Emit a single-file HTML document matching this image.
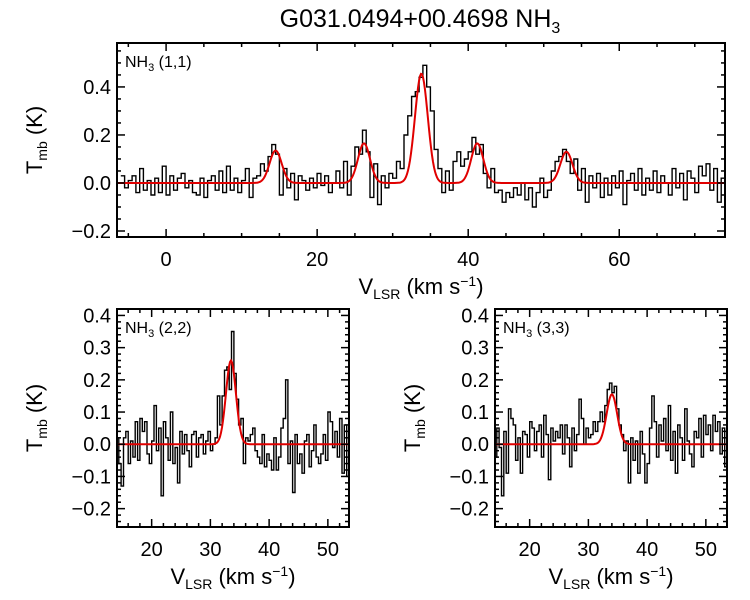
<!DOCTYPE html>
<html><head><meta charset="utf-8"><style>
body{margin:0;background:#fff}
svg{display:block;font-family:"Liberation Sans",sans-serif}
</style></head><body>
<svg id="c" width="750" height="600" viewBox="0 0 750 600">
<text x="420" y="27" font-size="25" text-anchor="middle">G031.0494+00.4698 NH<tspan font-size="16" dy="6">3</tspan></text>
</svg>
<script>
// Top panel NH3(1,1): channels start -6, width 0.5
const top11Start = -6, top11Step = 0.5;
const top11Values = [0.03,-0.02,0.01,0.03,-0.04,0.06,-0.03,0.01,-0.05,0.02,
-0.04,0.07,-0.05,0.03,-0.03,0.02,0.04,-0.02,0.01,-0.04,
-0.05,0.02,-0.06,0.01,0.03,-0.03,0.05,-0.04,0.07,-0.03,
0.02,-0.04,0.01,0.06,-0.06,0.02,0.03,0.08,0.05,0.11,
0.16,0.12,-0.05,0.06,-0.02,0.04,-0.07,0.03,0.01,-0.03,
0.02,-0.02,0.04,-0.01,0.03,-0.04,0.00,0.05,-0.02,0.09,
-0.05,0.07,0.15,0.12,0.22,0.13,-0.06,0.08,-0.09,0.03,
-0.02,0.04,0.02,0.09,0.06,0.20,0.28,0.36,0.38,0.44,
0.49,0.40,0.30,0.14,0.06,-0.04,0.05,-0.03,0.09,0.13,
0.07,0.10,0.13,0.19,0.12,0.16,0.04,-0.02,0.06,-0.04,
-0.03,-0.08,-0.04,-0.06,-0.02,-0.05,0.00,-0.07,-0.02,-0.10,
-0.04,0.02,-0.06,-0.03,0.05,0.09,0.11,0.14,0.09,0.04,
0.10,-0.03,0.06,-0.08,0.03,-0.02,0.04,-0.06,0.02,-0.05,
0.03,-0.02,0.05,-0.09,0.01,0.04,-0.03,0.06,-0.05,0.02,
-0.03,0.05,-0.04,0.03,0.00,-0.05,0.06,-0.02,0.04,-0.07,
0.05,0.02,-0.04,0.07,0.03,0.08,-0.03,0.06,-0.08,0.02];
const fit11Centers = [14.5,26.2,33.8,41.2,53.0];
const fit11Amps = [0.135,0.165,0.455,0.165,0.13];
const fit11Sigmas = [0.8,0.8,0.85,0.8,0.8];

const bStart = 14, bStep = 0.4;
const nh22Values = [0.02,-0.06,-0.13,0.02,0.04,-0.06,0.01,-0.04,0.07,-0.05,
0.08,0.04,0.07,-0.03,-0.06,0.01,0.12,-0.02,0.05,-0.16,
0.07,0.02,-0.05,0.10,-0.06,-0.01,-0.12,0.04,-0.03,0.03,
-0.02,-0.07,0.03,0.04,-0.04,0.02,0.03,-0.03,0.01,0.04,
-0.02,0.00,0.02,0.15,0.06,0.15,0.23,0.24,0.17,0.35,
0.22,0.14,0.06,0.08,-0.06,0.02,0.01,0.03,0.05,-0.02,
-0.04,-0.06,0.03,-0.07,-0.03,-0.05,-0.08,0.02,-0.08,-0.04,
0.05,0.08,0.20,-0.06,0.01,-0.15,0.03,-0.06,-0.03,-0.09,
0.01,0.03,-0.07,-0.02,0.06,-0.04,-0.06,-0.03,0.03,-0.05,
0.10,0.07,-0.01,0.04,-0.04,0.08,-0.09,0.06,-0.10,0.03];
const fit22Centers = [33.5], fit22Amps = [0.26], fit22Sigmas = [0.85];
const nh33Values = [-0.04,0.05,-0.01,-0.16,0.04,-0.09,0.11,0.08,0.06,-0.05,
0.02,-0.09,0.04,0.03,-0.04,0.07,0.05,-0.02,0.04,0.06,
-0.04,0.09,0.03,-0.11,0.05,0.01,0.04,0.02,0.06,-0.03,
0.06,0.02,-0.07,0.05,-0.02,0.03,0.14,0.08,0.00,0.05,
0.02,0.03,0.07,0.04,0.07,0.10,0.07,0.12,0.17,0.19,
0.16,0.18,0.11,0.06,0.03,-0.02,0.01,-0.12,0.02,-0.05,
0.01,-0.09,0.04,-0.03,-0.12,-0.06,0.05,0.15,0.07,-0.04,
0.06,0.01,0.08,-0.02,0.12,-0.05,0.04,-0.09,0.06,0.02,
-0.05,0.11,0.01,-0.03,-0.07,0.04,0.02,0.08,-0.04,0.09,
0.03,0.06,-0.02,0.09,0.04,0.07,-0.03,0.05,-0.07,0.04];
const fit33Centers = [34.0], fit33Amps = [0.155], fit33Sigmas = [0.9];

const topXTicks = [0,20,40,60], topYTicks = [-0.2,0.0,0.2,0.4];
const botXTicks = [20,30,40,50], botYTicks = [-0.2,-0.1,0.0,0.1,0.2,0.3,0.4];

const NS="http://www.w3.org/2000/svg", svg=document.getElementById('c');
function mk(tag,attrs,parent){const e=document.createElementNS(NS,tag);for(const k in attrs)e.setAttribute(k,attrs[k]);(parent||svg).appendChild(e);return e;}

function panel(o){
  const g=mk('g',{});
  
  
  const xs=v=>o.x0+(v-o.xmin)/(o.xmax-o.xmin)*(o.x1-o.x0);
  const ys=v=>o.y1-(v-o.ymin)/(o.ymax-o.ymin)*(o.y1-o.y0);
  let d='';
  o.vals.forEach((v,i)=>{const a=xs(o.start+i*o.step),b=xs(o.start+(i+1)*o.step),y=ys(v);
    d+=(i===0?'M':'L')+a.toFixed(1)+','+y.toFixed(1)+'L'+b.toFixed(1)+','+y.toFixed(1);});
  const cp=mk('clipPath',{id:'cp'+o.name},g);mk('rect',{x:o.x0,y:o.y0,width:o.x1-o.x0,height:o.y1-o.y0},cp);
  const h=mk('path',{d:d,fill:'none',stroke:'#000','stroke-width':1.4,'clip-path':'url(#cp'+o.name+')'},g);
  
  
  let f='';
  for(let px=o.x0;px<=o.x1;px+=1){const v=o.xmin+(px-o.x0)/(o.x1-o.x0)*(o.xmax-o.xmin);let s=0;
    o.fc.forEach((c,k)=>{s+=o.fa[k]*Math.exp(-0.5*((v-c)/o.fs[k])**2);});
    f+=(px===o.x0?'M':'L')+px+','+ys(s).toFixed(1);}
  const fl=mk('path',{d:f,fill:'none',stroke:'#e00000','stroke-width':2},g);
  
  
  const fr=mk('rect',{x:o.x0,y:o.y0,width:o.x1-o.x0,height:o.y1-o.y0,fill:'none',stroke:'#000','stroke-width':2},g);
  
  
  const xm=o.xminor, ym=o.yminor;
  for(let v=Math.ceil(o.xmin/xm)*xm;v<=o.xmax;v+=xm){const major=o.xt.some(t=>Math.abs(t-v)<1e-6);const L=major?8:4;const X=xs(v);
    mk('line',{x1:X,x2:X,y1:o.y1,y2:o.y1-L,stroke:'#000','stroke-width':1.5},g);mk('line',{x1:X,x2:X,y1:o.y0,y2:o.y0+L,stroke:'#000','stroke-width':1.5},g);}
  for(let v=Math.ceil(o.ymin/ym-1e-6)*ym;v<=o.ymax+1e-9;v+=ym){const major=o.yt.some(t=>Math.abs(t-v)<1e-6);const L=major?8:4;const Y=ys(v);
    mk('line',{x1:o.x0,x2:o.x0+L,y1:Y,y2:Y,stroke:'#000','stroke-width':1.5},g);mk('line',{x1:o.x1,x2:o.x1-L,y1:Y,y2:Y,stroke:'#000','stroke-width':1.5},g);}
  o.xt.forEach(t=>{const e=mk('text',{x:xs(t),y:o.y1+29,'font-size':20,'text-anchor':'middle'},g);e.textContent=String(t);
    
    });
  o.yt.forEach(t=>{const e=mk('text',{x:o.x0-6,y:ys(t)+7,'font-size':20,'text-anchor':'end'},g);e.textContent=(t<0?'\u2212':'')+Math.abs(t).toFixed(1);
    
    });
  const xt=mk('text',{x:(o.x0+o.x1)/2,y:o.y1+57,'font-size':22,'text-anchor':'middle'},g);
  xt.innerHTML='V<tspan font-size="14" dy="5">LSR</tspan><tspan dy="-5"> (km s</tspan><tspan font-size="14" dy="-8">\u22121</tspan><tspan dy="8">)</tspan>';
  
  
  const yt=mk('text',{x:0,y:0,'font-size':22,'text-anchor':'middle',transform:'translate('+o.ytx+','+(o.y0+o.y1)/2+') rotate(-90)'},g);
  yt.innerHTML='T<tspan font-size="14" dy="5">mb</tspan><tspan dy="-5"> (K)</tspan>';
  
  
  const lb=mk('text',{x:o.x0+8,y:o.y0+24,'font-size':16},g);
  lb.innerHTML='NH<tspan font-size="11" dy="4">3</tspan><tspan dy="-4"> '+o.label+'</tspan>';
  
  
}
panel({name:'panel-nh3-11',x0:117,x1:725,y0:43,y1:237,xmin:-6.5,xmax:74,ymin:-0.225,ymax:0.583,start:top11Start,step:top11Step,vals:top11Values,fc:fit11Centers,fa:fit11Amps,fs:fit11Sigmas,xt:topXTicks,yt:topYTicks,xminor:5,yminor:0.05,ytx:42,label:'(1,1)'});
panel({name:'panel-nh3-22',x0:117,x1:349,y0:309,y1:527,xmin:14.1,xmax:53.6,ymin:-0.257,ymax:0.42,start:bStart,step:bStep,vals:nh22Values,fc:fit22Centers,fa:fit22Amps,fs:fit22Sigmas,xt:botXTicks,yt:botYTicks,xminor:2,yminor:0.02,ytx:42,label:'(2,2)'});
panel({name:'panel-nh3-33',x0:495,x1:727,y0:309,y1:527,xmin:14.1,xmax:53.6,ymin:-0.257,ymax:0.42,start:bStart,step:bStep,vals:nh33Values,fc:fit33Centers,fa:fit33Amps,fs:fit33Sigmas,xt:botXTicks,yt:botYTicks,xminor:2,yminor:0.02,ytx:420,label:'(3,3)'});
</script>
</body></html>
